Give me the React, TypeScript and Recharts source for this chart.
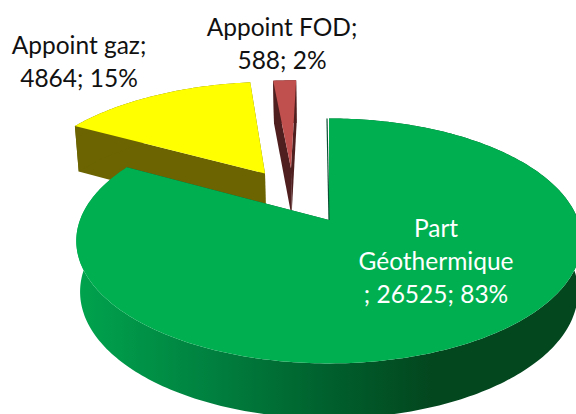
import React from "react";
import { PieChart, Pie } from "recharts";

const categories = ["Appoint FOD", "Appoint gaz", "Part Géothermique"];
const values = [588, 4864, 26525];
const percents = ["2%", "15%", "83%"];

const topColors = ["#c0504d", "#ffff00", "#00b050"];
const wallColors = ["#4f1f1f", "#6b6400", "url(#greenWall)"];
const explodeU = [-0.165, -0.2755, 0];
const explodeV = [0.47, 0.42, 0];
const radiusScale = [1, 1.03, 1];
const labelX = [282, 79, 436];
const labelY = [36, 54, 237];
const labelLines = [
  ["Appoint FOD;", "588; 2%"],
  ["Appoint gaz;", "4864; 15%"],
  ["Part", "Géothermique", "; 26525; 83%"],
];

const tableData = categories.map((name, i) => ({ name, value: values[i], pct: percents[i] }));

const PERSPECTIVE = 0.1707;
const SQUASH = 0.4776;
const toRad = Math.PI / 180;

function WedgeShape(props: any) {
  const { cx, cy, outerRadius, startAngle, endAngle, index } = props;
  const project = (u: number, v: number, low: boolean) => {
    const sc = 1 / (1 + PERSPECTIVE * v);
    let x = cx + outerRadius * u * sc;
    let y = cy - outerRadius * SQUASH * v * sc;
    if (low) {
      x = cx + (x - cx) * 0.985;
      y += 50 - 5 * v;
    }
    return [x, y];
  };
  const ou = explodeU[index];
  const ov = explodeV[index];
  const rs = radiusScale[index];
  const arc: number[][] = [];
  const steps = Math.max(2, Math.ceil(Math.abs(endAngle - startAngle)));
  for (let i = 0; i <= steps; i++) {
    const a = startAngle + ((endAngle - startAngle) * i) / steps;
    const t = (90 - a) * toRad;
    arc.push([ou + rs * Math.sin(t), ov + rs * Math.cos(t)]);
  }
  const path = (pts: number[][]) =>
    "M" + pts.map((p) => `${p[0].toFixed(2)},${p[1].toFixed(2)}`).join("L") + "Z";
  const top = arc.map(([u, v]) => project(u, v, false));
  const low = arc.map(([u, v]) => project(u, v, true));
  const apexTop = project(ou, ov, false);
  const apexLow = project(ou, ov, true);
  const n = arc.length - 1;
  const wall = wallColors[index];
  const edgeColor = index === 2 ? "#0b4f33" : wallColors[index];
  return (
    <g>
      <defs>
        <linearGradient id="greenWall" gradientUnits="userSpaceOnUse" x1="78" y1="0" x2="430" y2="0">
          <stop offset="0" stopColor="#00a34e" />
          <stop offset="0.35" stopColor="#008340" />
          <stop offset="0.75" stopColor="#005c2b" />
          <stop offset="1" stopColor="#03471f" />
        </linearGradient>
      </defs>
      <path d={path([top[0], apexTop, apexLow, low[0]])} fill={edgeColor} />
      <path d={path([top[n], apexTop, apexLow, low[n]])} fill={edgeColor} />
      <path d={path([...top, ...low.slice().reverse()])} fill={wall} />
      <path d={path([apexTop, ...top])} fill={topColors[index]} />
      {index === 2 ? (
        <line x1={top[n][0] - 2} y1={top[n][1]} x2={apexTop[0]} y2={apexTop[1]} stroke={edgeColor} strokeWidth={1.2} />
      ) : null}
    </g>
  );
}

function renderLabel(props: any) {
  const i = props.index;
  return (
    <text
      x={labelX[i]}
      y={labelY[i]}
      textAnchor="middle"
      fontFamily="Lato, 'Open Sans', sans-serif"
      fontSize={24.5}
      fill={i === 2 ? "#ffffff" : "#111111"}
    >
      {labelLines[i].map((line, k) => (
        <tspan key={k} x={labelX[i]} dy={k === 0 ? 0 : 33}>
          {line}
        </tspan>
      ))}
    </text>
  );
}

export default function App() {
  const Shape = (p: any) => <WedgeShape {...p} />;
  return (
    <div style={{ position: "absolute", left: 0, top: 0, width: 576, height: 414 }}>
      <PieChart width={576} height={414} margin={{ top: 0, right: 0, bottom: 0, left: 0 }}>
        <Pie
          data={tableData}
          dataKey="value"
          nameKey="name"
          cx={329}
          cy={220}
          innerRadius={0}
          outerRadius={249}
          startAngle={90}
          endAngle={450}
          stroke="none"
          isAnimationActive={false}
          shape={Shape}
          activeShape={Shape}
          inactiveShape={Shape}
          label={renderLabel}
          labelLine={false}
        />
      </PieChart>
    </div>
  );
}
